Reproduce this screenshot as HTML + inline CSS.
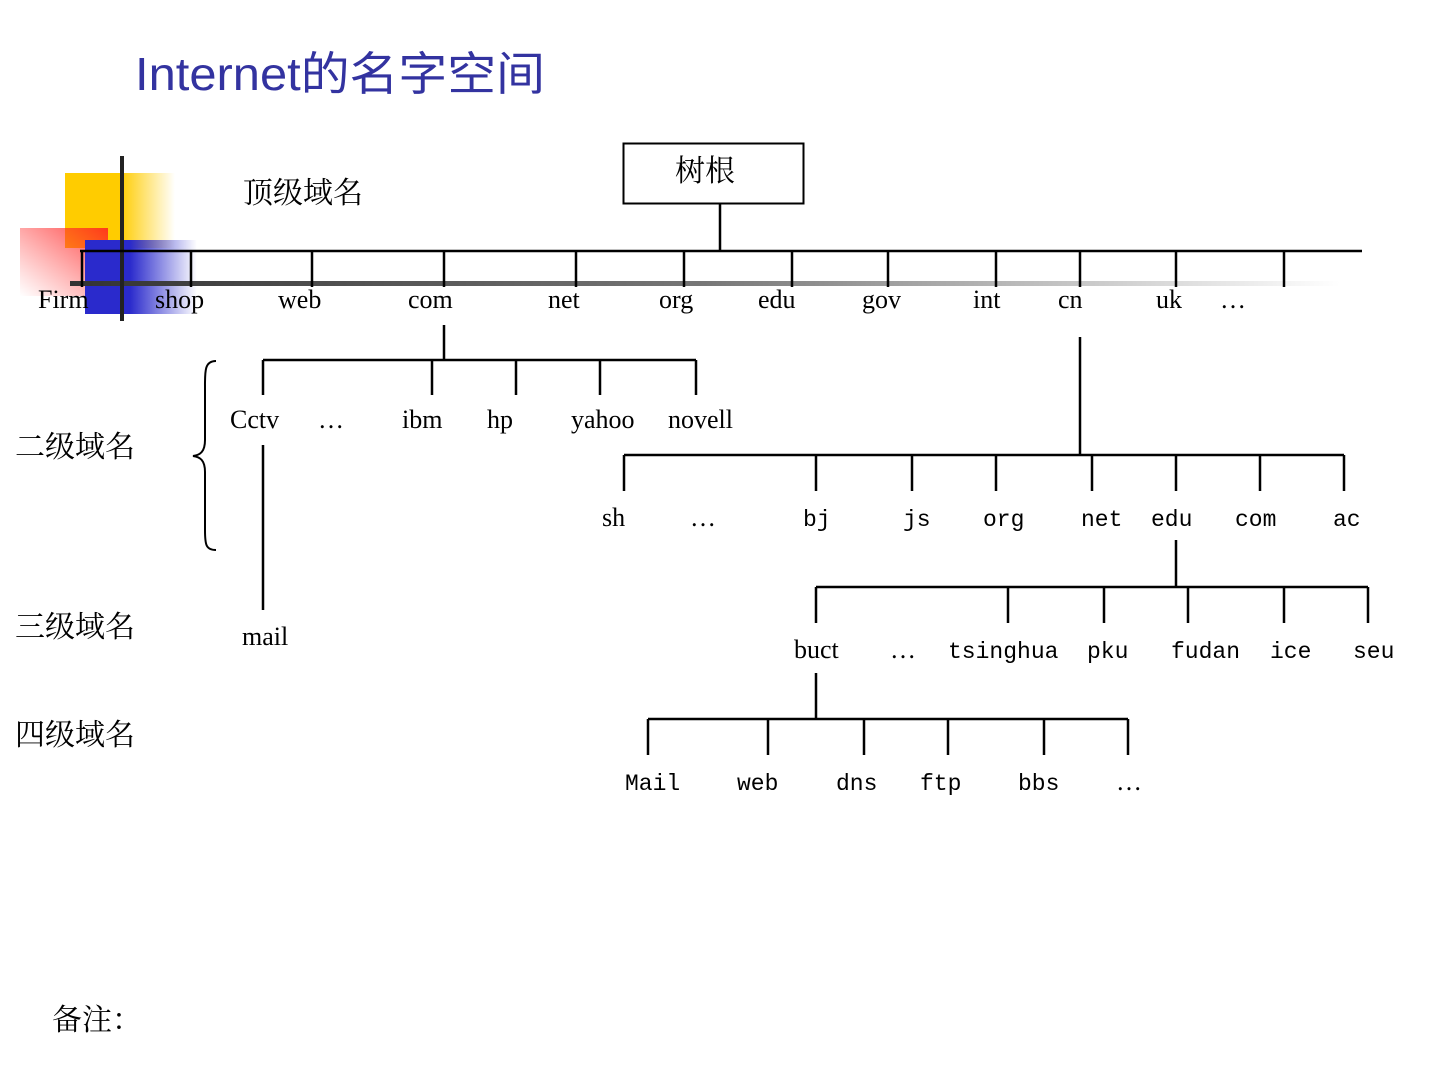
<!DOCTYPE html>
<html><head><meta charset="utf-8"><style>
html,body{margin:0;padding:0;background:#fff;}
svg{display:block}
.s{font-family:"Liberation Serif","Noto Serif CJK SC",serif;font-size:26px;fill:#000}
.m{font-family:"Liberation Mono","Noto Sans CJK SC",monospace;font-size:23px;fill:#000}
.c{font-family:"Liberation Serif","Noto Serif CJK SC","Noto Sans CJK SC",serif;font-size:30px;fill:#000}
</style></head><body>
<svg width="1440" height="1080" viewBox="0 0 1440 1080">
<defs>
<linearGradient id="gy" x1="0" x2="1"><stop offset="0.5" stop-color="#ffcc00"/><stop offset="1" stop-color="#ffcc00" stop-opacity="0"/></linearGradient>
<linearGradient id="gr" x1="1" x2="0" y1="0" y2="1"><stop offset="0" stop-color="#ff2020"/><stop offset="1" stop-color="#ff4040" stop-opacity="0"/></linearGradient>
<linearGradient id="gb" x1="0" x2="1"><stop offset="0.4" stop-color="#2a2acc"/><stop offset="1" stop-color="#2a2acc" stop-opacity="0"/></linearGradient>
<linearGradient id="gl" x1="0" x2="1"><stop offset="0" stop-color="#333"/><stop offset="0.5" stop-color="#777"/><stop offset="1" stop-color="#fff"/></linearGradient>
</defs>
<text x="135" y="90" font-family="Liberation Sans,Noto Sans CJK SC,sans-serif" font-size="46" fill="#3333a0" textLength="410" lengthAdjust="spacingAndGlyphs">Internet的名字空间</text>
<rect x="65" y="173" width="110" height="75" fill="url(#gy)"/>
<rect x="20" y="228" width="88" height="68" fill="url(#gr)" opacity="0.85"/>
<rect x="85" y="240" width="112" height="74" fill="url(#gb)"/>
<rect x="70" y="281" width="1270" height="5" fill="url(#gl)"/>
<rect x="120" y="156" width="4" height="165" fill="#222"/>
<text x="243" y="203" class="c">顶级域名</text>
<rect x="623.5" y="143.5" width="180" height="60" fill="none" stroke="#000" stroke-width="2"/>
<text x="675" y="181" class="c">树根</text>
<g stroke="#000" stroke-width="2.5" fill="none">
<path d="M720 204V251M80 251H1362"/>
<path d="M82 251V287M191 251V287M312 251V287M444 251V287M576 251V287M684 251V287M792 251V287M888 251V287M996 251V287M1080 251V287M1176 251V287M1284 251V287"/>
<path d="M444 325V360M263 360H696M263 360V395M432 360V395M516 360V395M600 360V395M696 360V395"/>
<path d="M263 445V610"/>
<path d="M1080 337V455M624 455H1344M624 455V491M816 455V491M912 455V491M996 455V491M1092 455V491M1176 455V491M1260 455V491M1344 455V491"/>
<path d="M1176 540V587M816 587H1368M816 587V623M1008 587V623M1104 587V623M1188 587V623M1284 587V623M1368 587V623"/>
<path d="M816 673V719M648 719H1128M648 719V755M768 719V755M864 719V755M948 719V755M1044 719V755M1128 719V755"/>
<path d="M216 361C204 361 205 372 205 390V440C205 452 200 455 193 456C200 457 205 460 205 472V530C205 545 206 550 216 550" stroke-width="2"/>
</g>
<g class="s">
<text x="38" y="308">Firm</text><text x="155" y="308">shop</text><text x="278" y="308">web</text><text x="408" y="308">com</text><text x="548" y="308">net</text><text x="659" y="308">org</text><text x="758" y="308">edu</text><text x="862" y="308">gov</text><text x="973" y="308">int</text><text x="1058" y="308">cn</text><text x="1156" y="308">uk</text><text x="1220" y="308">…</text>
<text x="230" y="428">Cctv</text><text x="318" y="428">…</text><text x="402" y="428">ibm</text><text x="487" y="428">hp</text><text x="571" y="428">yahoo</text><text x="668" y="428">novell</text>
<text x="242" y="645">mail</text>
<text x="602" y="526">sh</text><text x="690" y="526">…</text>
<text x="794" y="658">buct</text><text x="890" y="658">…</text>
<text x="1116" y="790">…</text>
</g>
<g class="m">
<text x="803" y="526">bj</text><text x="903" y="526">js</text><text x="983" y="526">org</text><text x="1081" y="526">net</text><text x="1151" y="526">edu</text><text x="1235" y="526">com</text><text x="1333" y="526">ac</text>
<text x="948" y="658">tsinghua</text><text x="1087" y="658">pku</text><text x="1171" y="658">fudan</text><text x="1270" y="658">ice</text><text x="1353" y="658">seu</text>
<text x="625" y="790">Mail</text><text x="737" y="790">web</text><text x="836" y="790">dns</text><text x="920" y="790">ftp</text><text x="1018" y="790">bbs</text>
</g>
<text x="15" y="457" class="c">二级域名</text>
<text x="15" y="637" class="c">三级域名</text>
<text x="15" y="745" class="c">四级域名</text>
<text x="52" y="1030" class="c" font-size="24">备注：</text>
</svg>
</body></html>
